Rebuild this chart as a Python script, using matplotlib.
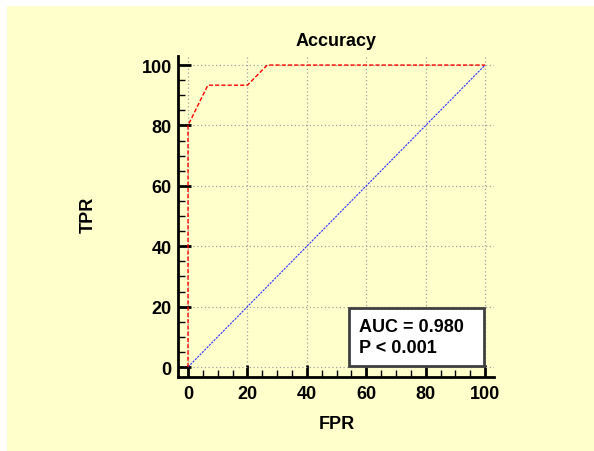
import matplotlib
matplotlib.use('Agg')
from matplotlib import pyplot as plt
from matplotlib.patches import Rectangle
from matplotlib.ticker import MultipleLocator

# ROC curve data (percent)
fpr = [0, 0, 6.67, 20, 26.67, 100]
tpr = [0, 80, 93.33, 93.33, 100, 100]
diag_x = [0, 100]
diag_y = [0, 100]
title = 'Accuracy'
auc_text = 'AUC = 0.980\nP < 0.001'

plt.rcParams['font.family'] = ['Liberation Sans', 'DejaVu Sans']
plt.rcParams['font.weight'] = 'bold'

W, H = 594, 452
fig = plt.figure(figsize=(W / 100, H / 100), dpi=100)
fig.patch.set_facecolor('white')
# yellow panel
fig.patches.append(Rectangle((7 / W, 0), 1 - 7 / W, 1 - 7 / H, transform=fig.transFigure,
                             facecolor='#FFFFCC', edgecolor='none', zorder=-10))

ax = fig.add_axes([178 / W, 1 - 378 / H, (494 - 178) / W, (378 - 57) / H])
ax.set_facecolor('none')

ax.plot(diag_x, diag_y, color='#3030ff', lw=0.8, ls=(0, (2, 1)), zorder=3)
ax.plot(fpr, tpr, color='#ff0000', lw=1.0, ls=(0, (3, 1.5)), zorder=4, clip_on=False)

ax.set_xlim(-3.37, 103)
ax.set_ylim(-3.3, 103)
ax.xaxis.set_major_locator(MultipleLocator(20))
ax.yaxis.set_major_locator(MultipleLocator(20))
ax.xaxis.set_minor_locator(MultipleLocator(5))
ax.yaxis.set_minor_locator(MultipleLocator(5))
ax.grid(True, which='major', color='#a0a0a0', ls=(0, (1, 2)), lw=0.9, zorder=1)
ax.set_axisbelow(True)

for s in ['top', 'right']:
    ax.spines[s].set_visible(False)
for s in ['left', 'bottom']:
    ax.spines[s].set_linewidth(2)
ax.tick_params(which='major', direction='in', length=9, width=2, labelsize=13, pad=4.5)
ax.tick_params(axis='x', which='major', pad=6)
ax.tick_params(which='minor', direction='in', length=5, width=1)
for lab in ax.get_xticklabels() + ax.get_yticklabels():
    lab.set_fontweight('bold')

# annotation box
ax.add_patch(Rectangle((0.541, 0.034), 0.427, 0.181, transform=ax.transAxes,
                       facecolor='white', edgecolor='#404040', lw=2, zorder=5))
ax.text(0.573, 0.125, auc_text, transform=ax.transAxes, fontsize=13, fontweight='bold',
        va='center', ha='left', linespacing=1.3, zorder=6)

fig.text(336 / W, 1 - 42 / H, title, ha='center', va='center', fontsize=13, fontweight='bold')
fig.text(337 / W, 1 - 425 / H, 'FPR', ha='center', va='center', fontsize=13, fontweight='bold')
fig.text(88 / W, 1 - 215 / H, 'TPR', ha='center', va='center', fontsize=13, fontweight='bold',
         rotation=90)

fig.savefig('out.png', dpi=100)
